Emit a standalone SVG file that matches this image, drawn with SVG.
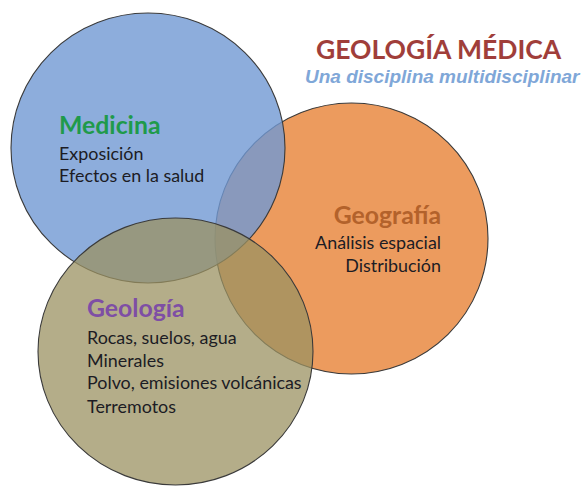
<svg xmlns="http://www.w3.org/2000/svg" width="587" height="486" viewBox="0 0 587 486">
<style>
.c{stroke:#3a3a3a;stroke-width:1.1}
.h{font-family:Lato,"Open Sans","Liberation Sans",sans-serif;font-weight:bold;font-size:24.8px}
.t{font-family:Lato,"Open Sans","Liberation Sans",sans-serif;font-size:17.9px;fill:#1c1c24}
</style>
<rect width="587" height="486" fill="#ffffff"/>
<g id="geografia">
<ellipse class="c" cx="351.5" cy="238.5" rx="136.5" ry="135.5" fill="#ec9b5e"/>
</g>
<g id="medicina">
<ellipse class="c" cx="148" cy="148" rx="137" ry="135" fill="#7199d3" fill-opacity="0.8"/>
</g>
<g id="geologia">
<ellipse class="c" cx="175.5" cy="351.5" rx="137.5" ry="133.5" fill="#9b9262" fill-opacity="0.75"/>
</g>
<g id="labels-medicina">
<text class="h" x="59" y="134" fill="#1f9a4b">Medicina</text>
<text class="t" x="59" y="160">Exposición</text>
<text class="t" x="59" y="182">Efectos en la salud</text>
</g>
<g id="labels-geografia">
<text class="h" x="441" y="224" fill="#b3622b" text-anchor="end">Geografía</text>
<text class="t" x="441" y="249" text-anchor="end">Análisis espacial</text>
<text class="t" x="441" y="272" text-anchor="end">Distribución</text>
</g>
<g id="labels-geologia">
<text class="h" x="87" y="317" fill="#7e4ea5">Geología</text>
<text class="t" x="87" y="344">Rocas, suelos, agua</text>
<text class="t" x="87" y="367">Minerales</text>
<text class="t" x="87" y="389">Polvo, emisiones volcánicas</text>
<text class="t" x="87" y="413">Terremotos</text>
</g>
<g id="title">
<text x="316" y="59" font-family="Lato,'Open Sans','Liberation Sans',sans-serif" font-weight="bold" font-size="26.5px" fill="#a03e3a">GEOLOGÍA MÉDICA</text>
<text x="305" y="83" font-family="'Liberation Sans',Arial,sans-serif" font-weight="bold" font-style="italic" font-size="19px" fill="#7fa7d8">Una disciplina multidisciplinar</text>
</g>
<g id="connectors"></g>
</svg>
